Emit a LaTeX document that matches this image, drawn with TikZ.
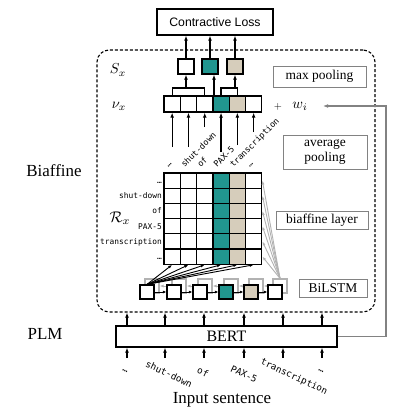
\documentclass[tikz,border=0pt]{standalone}
\usepackage{graphicx}
\usepackage{fontspec}
\setmainfont{Liberation Serif}
\newfontfamily\lsans{Liberation Sans}
\newfontfamily\dmono{DejaVu Sans Mono}
\usetikzlibrary{arrows.meta,calc}
\definecolor{mteal}{RGB}{33,150,143}
\definecolor{mtan}{RGB}{214,205,187}
\definecolor{mgray}{RGB}{130,130,130}
\definecolor{lgray}{RGB}{178,178,178}
\begin{document}
\begin{tikzpicture}[x=1bp,y=-1bp,
 cell/.style={draw, line width=1.2bp, minimum width=16.3bp, minimum height=15.2bp, inner sep=0pt},
 vcell/.style={draw, line width=1.2bp, minimum width=16.3bp, minimum height=16bp, inner sep=0pt},
 sbox/.style={draw, line width=1.2bp, minimum width=16bp, minimum height=15bp, inner sep=0pt},
 fbox/.style={draw, line width=1.2bp, minimum width=14bp, minimum height=14bp, inner sep=0pt},
 kbox/.style={draw=lgray, line width=1.2bp, minimum width=14bp, minimum height=14bp, inner sep=0pt, fill=white},
 tagbox/.style={draw=mgray, line width=0.9bp, inner sep=0pt, font=\fontsize{13.5}{15}\selectfont, align=center},
 arr/.style={-{Latex[length=5bp,width=3.8bp]}, line width=1.2bp},
 sarr/.style={-{Latex[length=3.5bp,width=3bp]}, line width=1bp},
 farr/.style={-{Latex[length=4bp,width=3bp]}, line width=0.9bp},
 garr/.style={-{Latex[length=4bp,width=3bp]}, line width=0.9bp, draw=lgray},
 big/.style={font=\fontsize{17}{19}\selectfont, inner sep=0pt},
 mathl/.style={inner sep=0pt},
 monor/.style={font=\dmono\fontsize{7.9}{9}\selectfont, inner sep=0pt},
 monoc/.style={font=\dmono\fontsize{8.4}{9}\selectfont, inner sep=0pt},
 monob/.style={font=\dmono\fontsize{9.3}{10}\selectfont, inner sep=0pt}
]
\useasboundingbox (0,0) rectangle (399,411);

% dashed biaffine region
\node[draw, dashed, dash pattern=on 3bp off 2bp, line width=1.1bp, rounded corners=12bp,
      minimum width=278bp, minimum height=262bp, inner sep=0pt] (bia) at (236,181) {};

% left labels
\node[big] (lb) at (54,171) {Biaffine};
\node[big] (lp) at (45,334) {PLM};

% loss
\node[draw, line width=1.3bp, minimum width=116bp, minimum height=26bp, inner sep=0pt,
      font=\lsans\fontsize{12.3}{14}\selectfont] (loss) at (215,22) {Contractive Loss};

% S boxes
\node[sbox, fill=white] (s1) at (186,66.5) {};
\node[sbox, fill=mteal] (s2) at (210,66.5) {};
\node[sbox, fill=mtan]  (s3) at (235,66.5) {};
\foreach \i in {1,2,3} \draw[arr] (s\i.north) -- (s\i.north |- loss.south);

% v cells
\foreach \c/\f in {1/white,2/white,3/white,4/mteal,5/mtan,6/white}
  \node[vcell, fill=\f] (v\c) at ({164+16.3*(\c-0.5)},104) {};

% pooling brackets
\coordinate (p1) at (186,88);
\coordinate (p3) at (235,88);
\coordinate (ta) at (214,96);
\draw[line width=1.2bp] (v1.north) -- (v1.north |- p1) -| (v3.north);
\draw[line width=1.2bp] (v4.north) -- (v4.north |- p3) -| (v5.north);
\draw[arr] (p1) -- (p1 |- s1.south);
\draw[arr] (p3) -- (p3 |- s3.south);
\draw[arr] (ta) -- (ta |- s2.south);

% math labels
\node[mathl] (sx) at (118,70) {\scalebox{1.45}{$S_x$}};
\node[mathl] (vx) at (119,106) {\scalebox{1.45}{$\nu_x$}};
\node[mathl] (rx) at (120,218) {\scalebox{1.55}{$\mathcal{R}_x$}};
\node[mathl] (plus) at (278,107) {\scalebox{1.05}{$+$}};
\node[mathl] (wi) at (300,106) {\scalebox{1.45}{$w_i$}};

% right tags
\node[tagbox, minimum width=93bp, minimum height=21bp] (tmax) at (319.5,76.5) {max pooling};
\node[tagbox, minimum width=84bp, minimum height=34bp, font=\fontsize{13.5}{15.5}\selectfont] (tavg) at (325,152) {average\\pooling};
\node[tagbox, minimum width=92bp, minimum height=18bp] (tbia) at (322,220) {biaffine layer};
\node[tagbox, minimum width=68bp, minimum height=18bp] (tbil) at (333,288) {BiLSTM};

% grid
\foreach \c/\f in {1/white,2/white,3/white,4/mteal,5/mtan,6/white}
  \foreach \r in {1,...,6}
    \node[cell, fill=\f] (g-\r-\c) at ({164+16.3*(\c-0.5)},{173+15.2*(\r-0.5)}) {};

% row labels
\foreach \r/\t in {1/…,2/shut-down,3/of,4/PAX-5,5/transcription,6/…}
  \node[monor, anchor=base east] (rl\r) at (162,{173+15.2*(\r-0.5)+2.8}) {\t};

% column labels and arrows into v cells
\foreach \c/\t/\ty in {1/…/147,2/shut-down/147,3/of/127,4/PAX-5/152,5/transcription/145,6/…/132}{
  \node[monoc, rotate=45, anchor=base west] (cl\c) at ({164+16.3*(\c-0.5)-4},168) {\t};
  \coordinate (ct\c) at ({164+16.3*(\c-0.5)},\ty);
  \draw[arr] (ct\c) -- (v\c.south);
}

% BiLSTM back (gray) boxes
\foreach \i/\x in {1/147,2/174,3/200,4/226,5/251,6/275}
  \node[kbox] (k\i) at (\x+5,286) {};
\foreach \i/\j in {1/2,2/3,3/4,4/5,5/6}
  \draw[garr] (k\j.west) -- (k\i.east);
% gray fan
\foreach \r in {1,...,6}
  \draw[garr] (k6.north) -- (g-\r-6.east);

% BiLSTM front boxes
\foreach \i/\x/\f in {1/147/white,2/174/white,3/200/white,4/226/mteal,5/251/mtan,6/275/white}
  \node[fbox, fill=\f] (f\i) at (\x,292) {};
\foreach \i/\j in {1/2,2/3,3/4,4/5,5/6}
  \draw[sarr] (f\i.east) -- (f\j.west);
% black fan
\foreach \c in {1,...,6}
  \draw[farr] (f1.north) -- (g-6-\c.south);

% BERT
\node[draw, line width=1.2bp, minimum width=221bp, minimum height=21bp, inner sep=0pt,
      font=\fontsize{16}{18}\selectfont] (bert) at (226.5,336.5) {BERT};
\foreach \i/\x in {1/127,2/165,3/204,4/244,5/283,6/322}{
  \coordinate (bt\i) at (\x,358);
  \draw[arr] (bt\i) -- (bt\i |- bert.south);
  \draw[arr] (bt\i |- bert.north) -- (bt\i |- bia.south);
}

% input words
\node[monob, rotate=-25] (iw1) at (125,371) {…};
\node[monob, rotate=-25] (iw2) at (169,374) {shut-down};
\node[monob, rotate=-25] (iw3) at (203,372) {of};
\node[monob, rotate=-25] (iw4) at (244,374) {PAX-5};
\node[monob, rotate=-25] (iw5) at (294,377) {transcription};
\node[monob, rotate=-25] (iw6) at (321,371) {…};
\node[big] (inp) at (222,400) {Input sentence};

% return line from BERT to w_i
\coordinate (rc) at (386,106);
\coordinate (wiin) at (323,106);
\draw[line width=1.2bp, draw=mgray, -{Latex[length=5bp,width=3.8bp]}] (bert.east) -| (rc) -- (wiin);
\end{tikzpicture}
\end{document}
